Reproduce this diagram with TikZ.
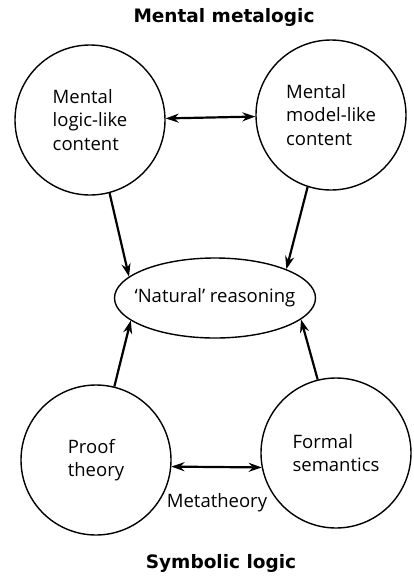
\documentclass[tikz,border=0pt]{standalone}
\usepackage{fontspec}
\setmainfont{Open Sans}
\newfontfamily\headfont{DejaVu Sans}
\usetikzlibrary{arrows.meta, shapes.geometric}
\begin{document}
\begin{tikzpicture}[x=1pt, y=-1pt,
  font=\fontsize{18.5}{23.5}\selectfont,
  concept/.style={circle, draw, line width=1.4pt, minimum size=150pt, align=left},
  heading/.style={font=\headfont\bfseries\fontsize{18.5}{20}\selectfont},
  link/.style={-{Stealth[length=13pt, width=9pt]}, line width=2.2pt},
  twoway/.style={{Stealth[length=13pt, width=9pt]}-{Stealth[length=13pt, width=9pt]}, line width=2.2pt}]
  \useasboundingbox (0,0) rectangle (414,579);

  % Headings
  \node[heading] (metalogic) at (224,17) {Mental metalogic};
  \node[heading] (symbolic) at (221,563) {Symbolic logic};

  % Mental content nodes
  \node[concept] (logic) at (90,120) {Mental\\logic-like\\content};
  \node[concept] (model) at (331,115) {Mental\\model-like\\content};

  % Reasoning node
  \node[ellipse, draw, line width=1.4pt, inner sep=0pt, minimum width=201pt, minimum height=80pt] (natural) at (215,298) {\makebox[0pt]{`Natural' reasoning}};

  % Symbolic logic nodes
  \node[concept] (proof) at (96,460) {Proof\\theory};
  \node[concept] (formal) at (336,453) {Formal\\semantics};
  \node (meta) at (217,503) {Metatheory};

  % Connections
  \draw[twoway] (logic) -- (model);
  \draw[twoway] (proof.-5) -- (formal.-169);
  \draw[link] (logic.-75) -- (natural.166);
  \draw[link] (model.-108) -- (natural.22);
  \draw[link] (proof.76) -- (natural.195);
  \draw[link] (formal.104) -- (natural.-14);

\end{tikzpicture}
\end{document}
